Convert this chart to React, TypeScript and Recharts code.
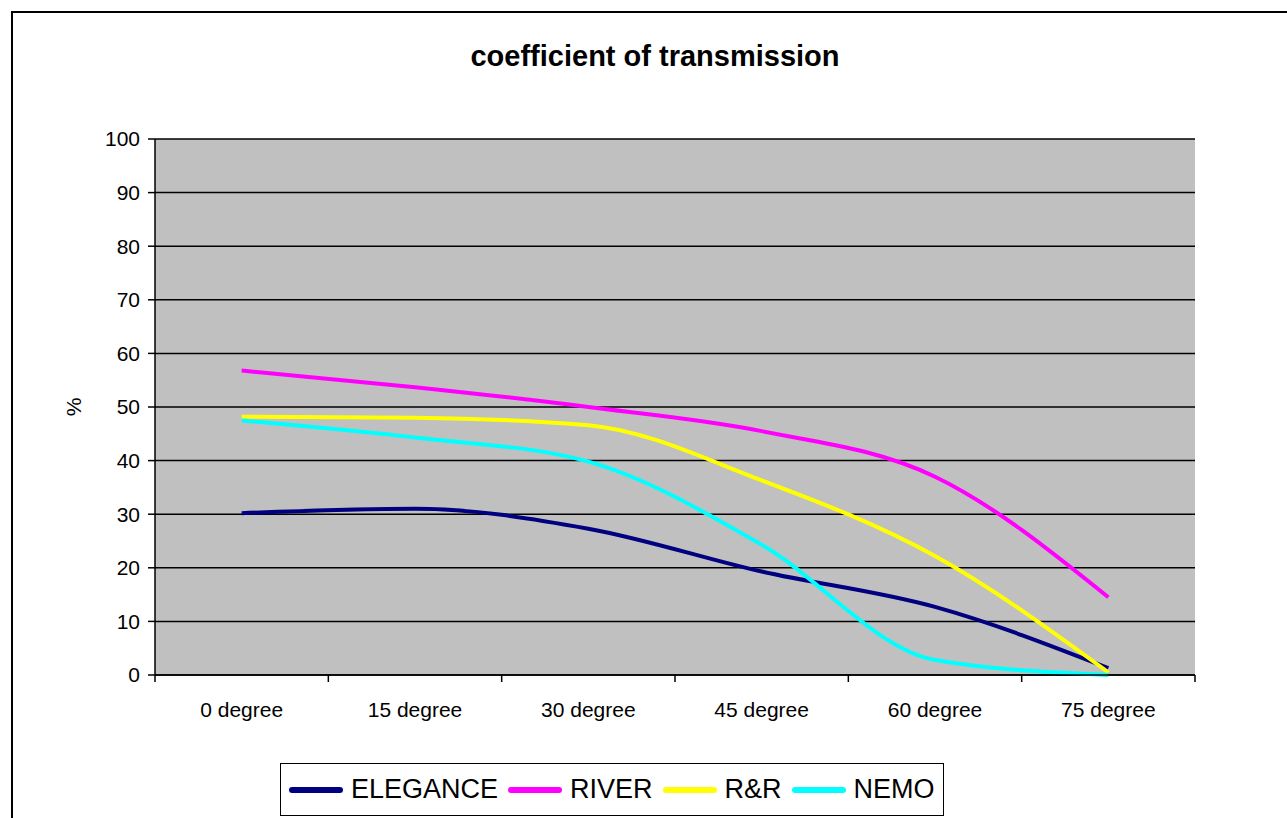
import { LineChart, Line, XAxis, YAxis, CartesianGrid, Legend } from 'recharts';

// values, one per angle
const angles = [0, 15, 30, 45, 60, 75];
const elegance = [30.2, 31, 27.3, 19.3, 12.7, 1.3];
const river = [56.8, 53.7, 50, 45.5, 37, 14.5];
const rAndR = [48.2, 48, 46.6, 36.3, 22.2, 0.5];
const nemo = [47.5, 44.3, 39.8, 24.3, 2.8, 0];

const seriesNames = ['ELEGANCE', 'RIVER', 'R&R', 'NEMO'];
const seriesColors = ['#000080', '#ff00ff', '#ffff00', '#00ffff'];
const yTicks = [0, 10, 20, 30, 40, 50, 60, 70, 80, 90, 100];

const data = angles.map((a, i) => ({
  angle: a,
  ELEGANCE: elegance[i],
  RIVER: river[i],
  'R&R': rAndR[i],
  NEMO: nemo[i],
}));

const W = 1287;
const H = 818;
const PLOT_LEFT = 155;
const PLOT_RIGHT = 1195;
const PLOT_TOP = 139;
const PLOT_BOTTOM = 675;
const Y_AXIS_W = 82;
const X_AXIS_H = 50;
const STEP = 15;
const HALF_BAND = (PLOT_RIGHT - PLOT_LEFT) / angles.length / 2;
const FONT = '"Liberation Sans", Arial, sans-serif';

// tick marks sit on the category boundaries, labels in the middle of each band
const boundaries = [angles[0] - STEP / 2, ...angles.map(a => a + STEP / 2)];

function XTick({ x, y, payload }: any) {
  const v = payload.value;
  if (v < angles[0]) return <g />;
  return (
    <text x={x - HALF_BAND} y={y} dy="0.71em" textAnchor="middle" fontSize={21} fill="#000" fontFamily={FONT}>
      {`${v - STEP / 2} degree`}
    </text>
  );
}

function ChartLegend() {
  return (
    <div
      style={{
        display: 'flex',
        alignItems: 'center',
        border: '1.5px solid #000',
        background: '#fff',
        width: 664,
        height: 53,
        boxSizing: 'border-box',
        paddingLeft: 8,
        fontFamily: FONT,
        fontSize: 27,
        color: '#000',
      }}
    >
      {seriesNames.map((name, i) => (
        <div key={name} style={{ display: 'flex', alignItems: 'center', marginRight: 10 }}>
          <div style={{ width: 54, height: 6, borderRadius: 3, background: seriesColors[i], marginRight: 8 }} />
          <span>{name}</span>
        </div>
      ))}
    </div>
  );
}

export default function App() {
  return (
    <div style={{ position: 'absolute', left: 0, top: 0, width: W, height: H, overflow: 'hidden', background: '#fff' }}>
      <div style={{ position: 'absolute', left: 11, top: 11, width: W + 100, height: H + 100, border: '2px solid #000' }} />
      <div
        style={{
          position: 'absolute',
          left: 0,
          width: 1310,
          top: 42,
          textAlign: 'center',
          fontFamily: FONT,
          fontWeight: 'bold',
          fontSize: 29,
          lineHeight: 1,
          color: '#000',
        }}
      >
        coefficient of transmission
      </div>
      <LineChart
        width={W}
        height={H}
        data={data}
        margin={{ top: PLOT_TOP, right: W - PLOT_RIGHT, bottom: H - PLOT_BOTTOM - X_AXIS_H, left: PLOT_LEFT - Y_AXIS_W }}
        style={{ position: 'absolute', left: 0, top: 0 }}
      >
        <CartesianGrid vertical={false} stroke="#000" strokeWidth={1.5} fill="#c0c0c0" fillOpacity={1} />
        <XAxis
          dataKey="angle"
          type="number"
          domain={[boundaries[0], boundaries[boundaries.length - 1]]}
          ticks={boundaries}
          interval={0}
          height={X_AXIS_H}
          stroke="#000"
          strokeWidth={1.5}
          tickSize={7}
          tickMargin={20}
          tick={<XTick />}
        />
        <YAxis
          domain={[0, 100]}
          ticks={yTicks}
          interval={0}
          width={Y_AXIS_W}
          stroke="#000"
          strokeWidth={1.5}
          tickSize={7}
          tickMargin={8}
          tick={{ fill: '#000', fontSize: 21, fontFamily: FONT }}
          label={() => (
            <text x={73} y={407} textAnchor="middle" dominantBaseline="central" fontSize={21} fontFamily={FONT} fill="#000" transform="rotate(-90 73 407)">
              %
            </text>
          )}
        />
        <YAxis yAxisId="frame" orientation="right" domain={[0, 100]} width={0} tick={false} tickLine={false} stroke="#9a9a9a" />
        {seriesNames.map((name, i) => (
          <Line
            key={name}
            type="monotone"
            dataKey={name}
            stroke={seriesColors[i]}
            strokeWidth={4}
            dot={false}
            activeDot={false}
            isAnimationActive={false}
          />
        ))}
        <Legend
          layout="vertical"
          align="center"
          verticalAlign="middle"
          wrapperStyle={{ position: 'absolute', left: 280, top: 763, width: 664 }}
          content={() => <ChartLegend />}
        />
      </LineChart>
    </div>
  );
}
